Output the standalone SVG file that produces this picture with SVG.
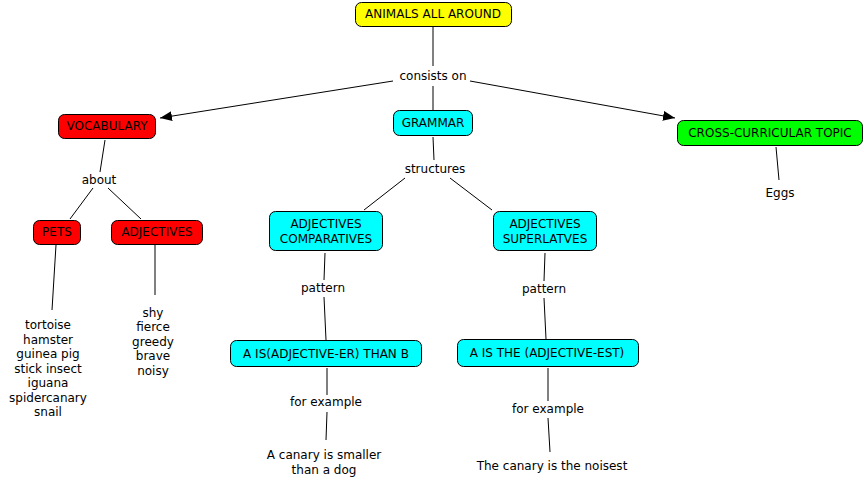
<svg xmlns="http://www.w3.org/2000/svg" width="864" height="486" viewBox="0 0 864 486">
<defs>
<style>
.n{stroke:#000;stroke-width:1}
.t{font-family:"DejaVu Sans",Verdana,sans-serif;font-size:12px;fill:#000;text-anchor:middle}
.c{stroke:#000;stroke-width:1;fill:none}
</style>
<marker id="a" viewBox="0 0 12 10" refX="12" refY="5" markerWidth="12" markerHeight="10" markerUnits="userSpaceOnUse" orient="auto">
<path d="M0,0L12,5L0,10z" fill="#000"/>
</marker>
</defs>
<rect width="864" height="486" fill="#fff"/>
<g id="connectors">
<line class="c" x1="433" y1="27" x2="433" y2="66"/>
<line class="c" x1="393" y1="81" x2="160" y2="118" marker-end="url(#a)"/>
<line class="c" x1="470" y1="81" x2="675" y2="118" marker-end="url(#a)"/>
<line class="c" x1="433" y1="86" x2="433" y2="110"/>
<line class="c" x1="105" y1="140" x2="100" y2="172"/>
<line class="c" x1="93" y1="188" x2="70" y2="219"/>
<line class="c" x1="108" y1="188" x2="141" y2="219"/>
<line class="c" x1="56" y1="245" x2="52" y2="310"/>
<line class="c" x1="155" y1="245" x2="155" y2="295"/>
<line class="c" x1="433" y1="137" x2="434" y2="160"/>
<line class="c" x1="405" y1="178" x2="364" y2="210"/>
<line class="c" x1="450" y1="178" x2="492" y2="210"/>
<line class="c" x1="325" y1="253" x2="324" y2="280"/>
<line class="c" x1="324" y1="297" x2="326" y2="340"/>
<line class="c" x1="327" y1="368" x2="327" y2="395"/>
<line class="c" x1="327" y1="412" x2="326" y2="440"/>
<line class="c" x1="545" y1="253" x2="544" y2="281"/>
<line class="c" x1="544" y1="298" x2="546" y2="339"/>
<line class="c" x1="548" y1="368" x2="548" y2="401"/>
<line class="c" x1="548" y1="418" x2="550" y2="452"/>
<line class="c" x1="776" y1="147" x2="779" y2="180"/>
</g>
<g id="n-animals"><rect class="n" x="355.5" y="2.5" width="156" height="24" rx="6" fill="#ffff00"/><text class="t" x="433" y="18">ANIMALS ALL AROUND</text></g>
<g id="l-consists"><text class="t" x="433" y="80">consists on</text></g>
<g id="n-vocab"><rect class="n" x="58.5" y="114.5" width="97" height="24" rx="6" fill="#ff0000"/><text class="t" x="107" y="130">VOCABULARY</text></g>
<g id="n-grammar"><rect class="n" x="393.5" y="110.5" width="79" height="25" rx="6" fill="#00ffff"/><text class="t" x="433" y="127">GRAMMAR</text></g>
<g id="n-cross"><rect class="n" x="677.5" y="120.5" width="185" height="25" rx="6" fill="#00ff00"/><text class="t" x="770" y="137">CROSS-CURRICULAR TOPIC</text></g>
<g id="l-eggs"><text class="t" x="780" y="197">Eggs</text></g>
<g id="l-about"><text class="t" x="99" y="184">about</text></g>
<g id="n-pets"><rect class="n" x="33.5" y="220.5" width="47" height="24" rx="6" fill="#ff0000"/><text class="t" x="57" y="236">PETS</text></g>
<g id="n-adj"><rect class="n" x="111.5" y="220.5" width="91" height="24" rx="6" fill="#ff0000"/><text class="t" x="157" y="236">ADJECTIVES</text></g>
<g id="l-pets"><text class="t" x="48" y="329">tortoise</text><text class="t" x="48" y="343.5">hamster</text><text class="t" x="48" y="358">guinea pig</text><text class="t" x="48" y="372.5">stick insect</text><text class="t" x="48" y="387">iguana</text><text class="t" x="48" y="401.5">spidercanary</text><text class="t" x="48" y="416">snail</text></g>
<g id="l-adjlist"><text class="t" x="153" y="316.5">shy</text><text class="t" x="153" y="331">fierce</text><text class="t" x="153" y="345.5">greedy</text><text class="t" x="153" y="360">brave</text><text class="t" x="153" y="374.5">noisy</text></g>
<g id="l-structures"><text class="t" x="435" y="173">structures</text></g>
<g id="n-comp"><rect class="n" x="269.5" y="211.5" width="113" height="39" rx="6" fill="#00ffff"/><text class="t" x="326" y="228">ADJECTIVES</text><text class="t" x="326" y="243">COMPARATIVES</text></g>
<g id="n-super"><rect class="n" x="493.5" y="211.5" width="103" height="39" rx="6" fill="#00ffff"/><text class="t" x="545" y="228">ADJECTIVES</text><text class="t" x="545" y="243">SUPERLATVES</text></g>
<g id="l-pattern1"><text class="t" x="323" y="292">pattern</text></g>
<g id="l-pattern2"><text class="t" x="544" y="293">pattern</text></g>
<g id="n-er"><rect class="n" x="230.5" y="340.5" width="191" height="26" rx="6" fill="#00ffff"/><text class="t" x="326" y="357.5">A IS(ADJECTIVE-ER) THAN B</text></g>
<g id="n-est"><rect class="n" x="457.5" y="339.5" width="181" height="27" rx="6" fill="#00ffff"/><text class="t" x="547" y="356.5">A IS THE (ADJECTIVE-EST)</text></g>
<g id="l-fe1"><text class="t" x="326" y="406">for example</text></g>
<g id="l-fe2"><text class="t" x="548" y="413">for example</text></g>
<g id="l-ex1"><text class="t" x="324" y="459">A canary is smaller</text><text class="t" x="324" y="473.5">than a dog</text></g>
<g id="l-ex2"><text class="t" x="552" y="470">The canary is the noisest</text></g>
</svg>
